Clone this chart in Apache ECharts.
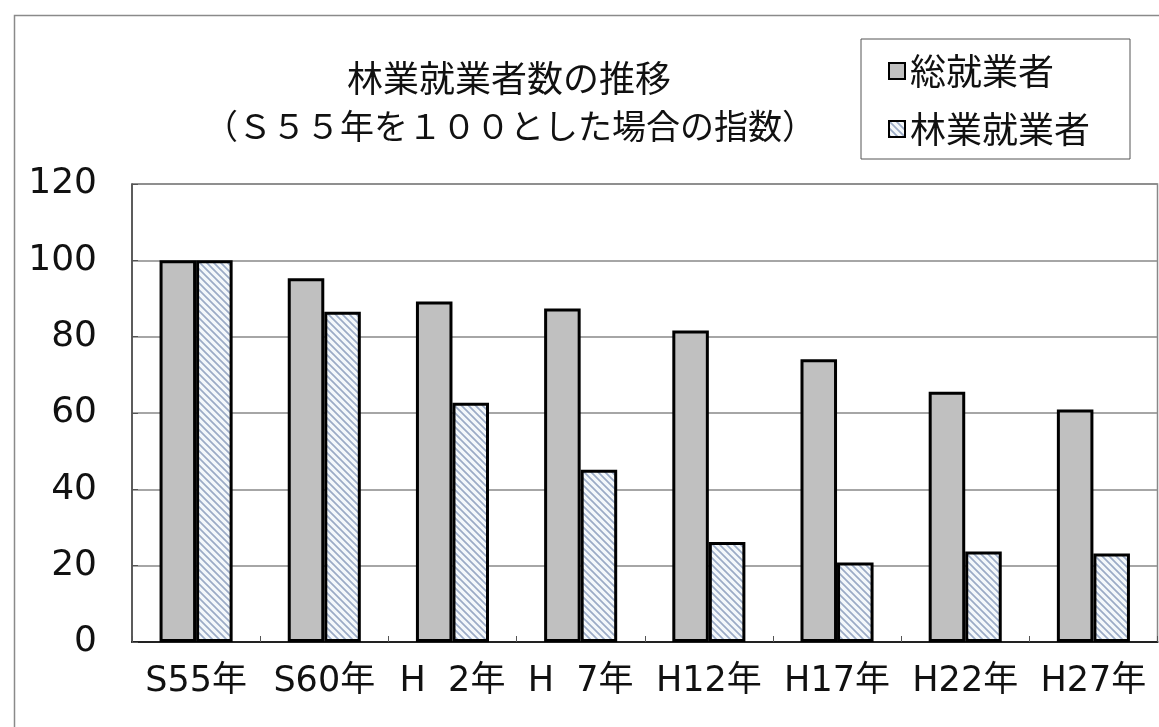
<!DOCTYPE html>
<html>
<head>
<meta charset="utf-8">
<script src="https://cdn.jsdelivr.net/npm/echarts@6/dist/echarts.min.js"></script>
<style>
html,body{margin:0;padding:0;background:#fff;}
#chart{width:1159px;height:727px;}
</style>
</head>
<body>
<div id="chart"></div>
<script>
const categories = ['S55年', 'S60年', 'H  2年', 'H  7年', 'H12年', 'H17年', 'H22年', 'H27年'];
const totalWorkers = [100, 95.3, 89.2, 87.4, 81.6, 74.1, 65.6, 60.9];
const forestryWorkers = [100, 86.5, 62.7, 45.1, 26.2, 20.8, 23.7, 23.2];
const seriesNames = ['総就業者', '林業就業者'];
const titleLine1 = '林業就業者数の推移';
const titleLine2 = '（Ｓ５５年を１００とした場合の指数）';

function makeHatch() {
  const s = 7;
  const c = document.createElement('canvas');
  c.width = s; c.height = s;
  const g = c.getContext('2d');
  g.fillStyle = '#f4f8fb';
  g.fillRect(0, 0, s, s);
  g.strokeStyle = '#9babc6';
  g.lineWidth = 1.7;
  g.beginPath();
  g.moveTo(-1, -1); g.lineTo(s + 1, s + 1);
  g.moveTo(-1, s - 1); g.lineTo(1, s + 1);
  g.moveTo(s - 1, -1); g.lineTo(s + 1, 1);
  g.stroke();
  return c;
}
const hatch = { image: makeHatch(), repeat: 'repeat' };

const chart = echarts.init(document.getElementById('chart'), null, { renderer: 'canvas' });
const FONT = '"DejaVu Sans", "Noto Sans CJK JP", sans-serif';
const CJK = '"Noto Sans CJK JP", sans-serif';

chart.setOption({
  animation: false,
  backgroundColor: '#fff',
  graphic: [
    { type: 'rect', shape: { x: 14.5, y: 15.5, width: 1400, height: 1000 }, style: { fill: 'none', stroke: '#8a8a8a', lineWidth: 1.5 }, silent: true, z: 0 },
    { type: 'text', x: 509, y: 78, style: { text: titleLine1, font: '36px ' + CJK, fill: '#111', textAlign: 'center', textVerticalAlign: 'middle' } },
    { type: 'text', x: 510, y: 126, style: { text: titleLine2, font: '34px ' + CJK, fill: '#111', textAlign: 'center', textVerticalAlign: 'middle' } }
  ],
  legend: {
    orient: 'vertical',
    left: 861,
    top: 39,
    padding: [14, 40, 12, 27],
    itemGap: 22,
    itemWidth: 16,
    itemHeight: 16,
    icon: 'rect',
    itemStyle: { borderColor: '#000', borderWidth: 2 },
    borderColor: '#555',
    borderWidth: 1,
    textStyle: { fontFamily: CJK, fontSize: 36, color: '#111' },
    data: seriesNames
  },
  grid: {
    left: 132, top: 184, right: 1.5, bottom: 85,
    show: true, borderColor: '#888', borderWidth: 1.5
  },
  xAxis: {
    type: 'category',
    data: categories,
    axisLine: { lineStyle: { color: '#222', width: 2 } },
    axisTick: { show: true, inside: true, length: 6, lineStyle: { color: '#555' } },
    axisLabel: { interval: 0, fontFamily: FONT, fontSize: 35, color: '#111', margin: 22 }
  },
  yAxis: {
    type: 'value',
    min: 0, max: 120, interval: 20,
    axisLine: { show: true, lineStyle: { color: '#444', width: 1.5 } },
    axisTick: { show: true, inside: true, length: 6, lineStyle: { color: '#555' } },
    splitLine: { lineStyle: { color: '#888', width: 1.5 } },
    axisLabel: { fontFamily: FONT, fontSize: 36, color: '#111', margin: 35 }
  },
  series: [
    {
      name: seriesNames[0], type: 'bar', data: totalWorkers,
      barGap: '0%', barCategoryGap: '43%',
      itemStyle: { color: '#c0c0c0', borderColor: '#000', borderWidth: 3 }
    },
    {
      name: seriesNames[1], type: 'bar', data: forestryWorkers,
      itemStyle: { color: hatch, borderColor: '#000', borderWidth: 3 }
    }
  ]
});
</script>
</body>
</html>
